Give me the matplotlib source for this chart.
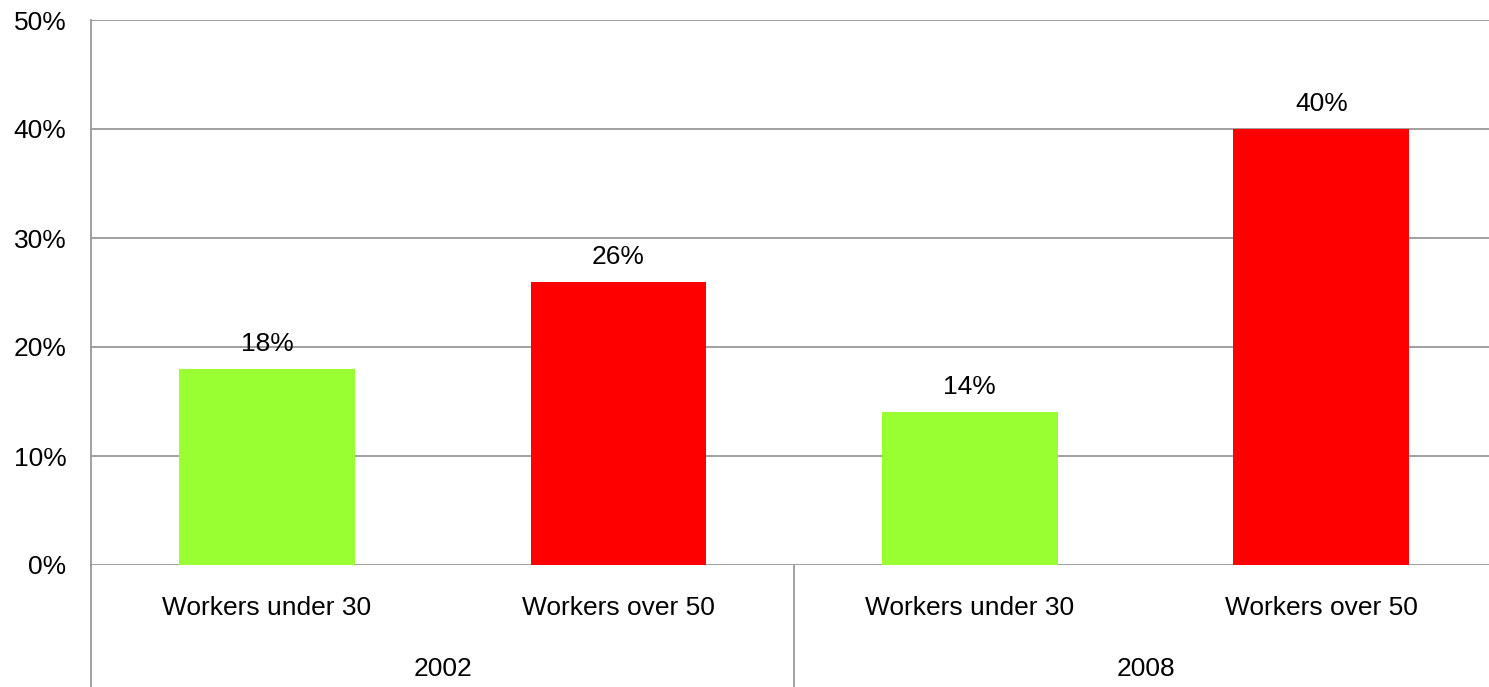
import matplotlib
matplotlib.use("Agg")
import matplotlib.pyplot as plt

years = ["2002", "2008"]
categories = ["Workers under 30", "Workers over 50", "Workers under 30", "Workers over 50"]
values = [18, 26, 14, 40]
colors = ["#99FF33", "#FF0000", "#99FF33", "#FF0000"]
yticks = [0, 10, 20, 30, 40, 50]
ytick_labels = ["0%", "10%", "20%", "30%", "40%", "50%"]

plt.rcParams["font.family"] = ["Liberation Sans", "DejaVu Sans"]
FS = 19
W, H = 1489, 687
fig = plt.figure(figsize=(W / 100, H / 100), dpi=100)
left_px, right_px, top_px, zero_px = 91.25, 1497, 20, 565
ax = fig.add_axes([left_px / W, 1 - zero_px / H, (right_px - left_px) / W, (zero_px - top_px) / H])

x = list(range(len(values)))
ax.bar(x, values, width=0.5, color=colors, zorder=3)
ax.set_xlim(-0.5, len(values) - 0.5)
ax.set_ylim(0, 50)
ax.set_yticks(yticks)
ax.set_yticklabels(ytick_labels, fontsize=FS)
ax.tick_params(axis="y", length=0, pad=18)
ax.set_xticks([])
ax.yaxis.grid(True, color="#999999", linewidth=1.3, zorder=0)
for s in ["top", "right", "bottom"]:
    ax.spines[s].set_visible(False)
ax.spines["left"].set_color("#999999")
ax.spines["left"].set_linewidth(1.3)

for xi, v in zip(x, values):
    ax.annotate(f"{v}%", (xi, v), xytext=(0, 18), textcoords="offset points",
                ha="center", va="center", fontsize=FS, zorder=4)

axh = zero_px - top_px
trans = ax.get_xaxis_transform()
for xi, c in zip(x, categories):
    ax.text(xi, (zero_px - 608) / axh, c, transform=trans, ha="center", va="center", fontsize=FS)
for gi, yr in enumerate(years):
    ax.text(gi * 2 + 0.5, (zero_px - 669) / axh, yr, transform=trans, ha="center", va="center", fontsize=FS)

bottom_frac = (zero_px - H) / axh
for xb in [-0.5, 1.5, 3.5]:
    ax.plot([xb, xb], [0, bottom_frac], transform=trans, color="#999999", linewidth=1.3, clip_on=False)

fig.savefig("out.png", dpi=100)
